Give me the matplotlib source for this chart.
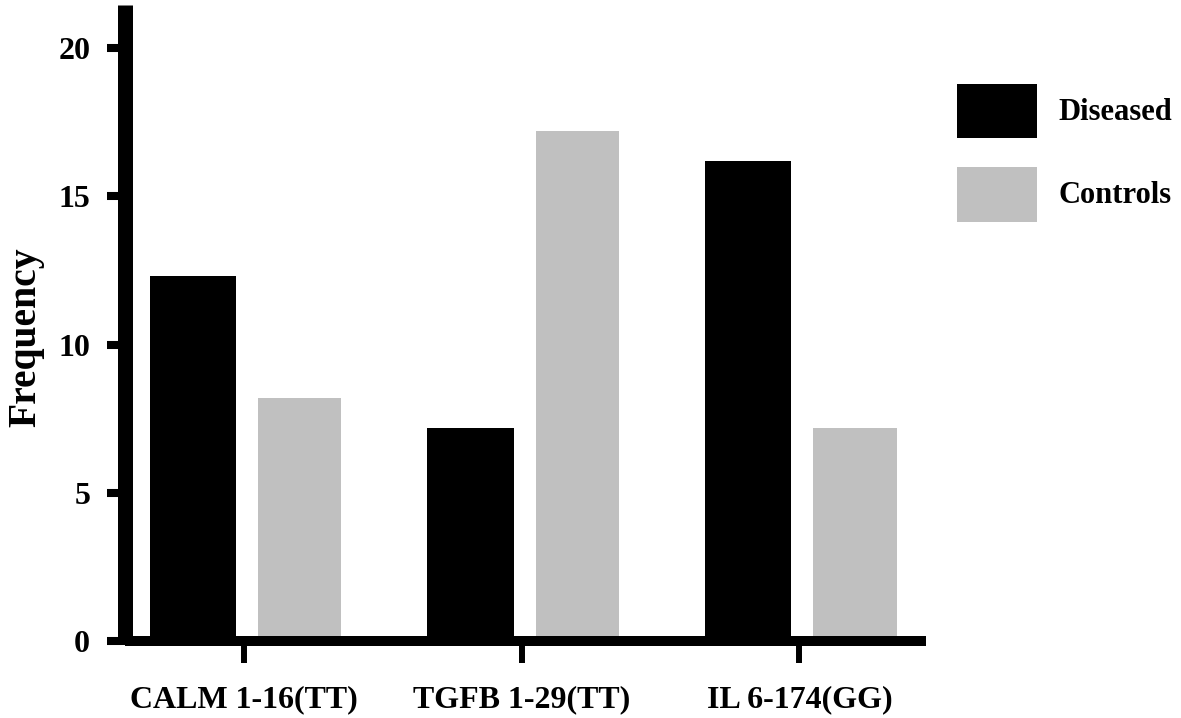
import matplotlib.pyplot as plt
import numpy as np
from matplotlib.patches import Patch

# data
genotypes = ['CALM 1-16(TT)', 'TGFB 1-29(TT)', 'IL 6-174(GG)']
diseased = [12.3, 7.2, 16.2]
controls = [8.2, 17.2, 7.2]

plt.rcParams['font.family'] = ['Liberation Serif', 'DejaVu Serif']
plt.rcParams['font.weight'] = 'bold'

fig = plt.figure(figsize=(11.81, 7.18), dpi=100)
ax = fig.add_axes([0.1058, 0.107, 0.678, 0.886])

x = np.arange(len(genotypes))
ax.bar(x - 0.185, diseased, width=0.31, color='black', linewidth=0)
ax.bar(x + 0.2, controls, width=0.3, color='#c0c0c0', linewidth=0)

ax.set_xlim(-0.43, 2.455)
ax.set_ylim(0, 21.45)
ax.set_yticks([0, 5, 10, 15, 20])
ax.set_xticks(x)
ax.set_xticklabels(genotypes)

for s in ['top', 'right']:
    ax.spines[s].set_visible(False)
ax.spines['left'].set_linewidth(10.8)
ax.spines['bottom'].set_linewidth(7.2)
ax.spines['bottom'].set_capstyle('butt')
ax.spines['left'].set_capstyle('butt')

ax.tick_params(axis='y', length=13, width=5.8, pad=12, labelsize=23)
ax.tick_params(axis='x', length=16, width=4.3, pad=16, labelsize=23)
for lab in ax.get_xticklabels() + ax.get_yticklabels():
    lab.set_fontweight('bold')

ax.set_ylabel('Frequency', fontsize=28.5, fontweight='bold')
ax.yaxis.set_label_coords(-0.101, 0.478)

handles = [Patch(facecolor='black', edgecolor='none', label='Diseased'),
           Patch(facecolor='#c0c0c0', edgecolor='none', label='Controls')]
fig.legend(handles=handles, loc='upper left', bbox_to_anchor=(0.787, 0.922),
           frameon=False, handlelength=2.61, handleheight=2.39,
           labelspacing=0.92, handletextpad=0.72, prop={'weight': 'bold', 'size': 22})

fig.savefig('out.png', dpi=100)
